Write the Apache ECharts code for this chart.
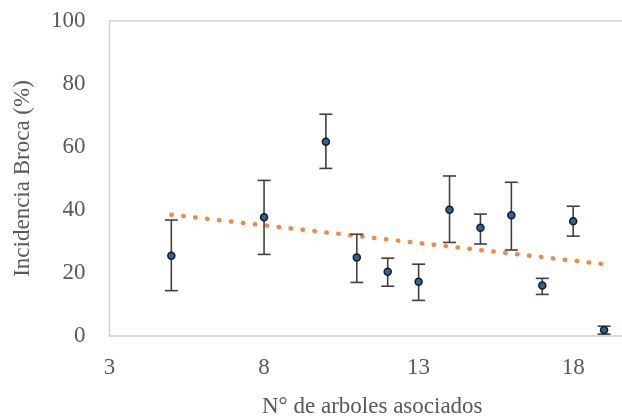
<!DOCTYPE html>
<html>
<head>
<meta charset="utf-8">
<script src="https://cdn.jsdelivr.net/npm/echarts@6/dist/echarts.min.js"></script>
<style>html,body{margin:0;padding:0;background:#fff}#c{width:622px;height:418px}</style>
</head>
<body>
<div id="c"></div>
<script>
var xVals = [5, 8, 10, 11, 12, 13, 14, 15, 16, 17, 18, 19];
var yVals = [25.5, 37.7, 61.7, 24.9, 20.4, 17.2, 40.1, 34.4, 38.3, 16.0, 36.4, 1.9];
var yUpper = [36.8, 49.4, 70.4, 32.3, 24.7, 22.8, 50.8, 38.7, 48.8, 18.3, 41.2, 3.1];
var yLower = [14.4, 25.9, 53.2, 17.0, 15.8, 11.3, 29.7, 29.2, 27.3, 13.2, 31.7, 0.6];
var trendX = [5, 19];
var trendY = [38.5, 22.8];
var xTicks = [3, 8, 13, 18];
var yTicks = [0, 20, 40, 60, 80, 100];

var points = xVals.map(function (x, i) { return [x, yVals[i]]; });
var errData = xVals.map(function (x, i) { return [x, yLower[i], yUpper[i]]; });
var trend = trendX.map(function (x, i) { return [x, trendY[i]]; });

var font = 'Liberation Serif';
var chart = echarts.init(document.getElementById('c'), null, {renderer: 'canvas'});
chart.setOption({
  animation: false,
  backgroundColor: '#fff',
  grid: {left: 109.5, top: 21, bottom: 82, right: -13, containLabel: false, outerBoundsMode: 'none',
    show: true, borderColor: '#d0d0d0', borderWidth: 1.5, backgroundColor: 'transparent'},
  xAxis: {
    type: 'value', min: 3, max: 20, interval: 5,
    name: 'N° de arboles asociados', nameLocation: 'middle', nameGap: 59,
    nameTextStyle: {fontFamily: font, fontSize: 23, color: '#595959'},
    axisLine: {show: false}, axisTick: {show: false}, splitLine: {show: false},
    axisLabel: {fontFamily: font, fontSize: 23, color: '#595959', margin: 20,
      formatter: function (v) { return xTicks.indexOf(v) >= 0 ? String(v) : ''; }}
  },
  yAxis: {
    type: 'value', min: 0, max: 100, interval: 20,
    name: 'Incidencia Broca (%)', nameLocation: 'middle', nameGap: 75,
    nameTextStyle: {fontFamily: font, fontSize: 23, color: '#595959'},
    axisLine: {show: false}, axisTick: {show: false}, splitLine: {show: false},
    axisLabel: {fontFamily: font, fontSize: 23, color: '#595959', margin: 24,
      formatter: function (v) { return yTicks.indexOf(v) >= 0 ? String(v) : ''; }}
  },
  series: [
    {
      type: 'line', data: trend, symbol: 'none', z: 2,
      lineStyle: {color: '#ED7D31', width: 4.5, type: [0.5, 11.5], cap: 'round', opacity: 0.9}
    },
    {
      type: 'custom', z: 3, data: errData,
      renderItem: function (params, api) {
        var x = api.value(0);
        var lo = api.coord([x, api.value(1)]);
        var hi = api.coord([x, api.value(2)]);
        var w = 6.5;
        var st = {stroke: '#404040', lineWidth: 1.6};
        return {type: 'group', children: [
          {type: 'line', shape: {x1: lo[0], y1: lo[1], x2: hi[0], y2: hi[1]}, style: st},
          {type: 'line', shape: {x1: hi[0] - w, y1: hi[1], x2: hi[0] + w, y2: hi[1]}, style: st},
          {type: 'line', shape: {x1: lo[0] - w, y1: lo[1], x2: lo[0] + w, y2: lo[1]}, style: st}
        ]};
      }
    },
    {
      type: 'scatter', data: points, symbol: 'circle', symbolSize: 7, z: 4,
      itemStyle: {color: '#2A64A0', borderColor: '#1a1a1a', borderWidth: 1.5, opacity: 1}
    }
  ]
});
</script>
</body>
</html>
